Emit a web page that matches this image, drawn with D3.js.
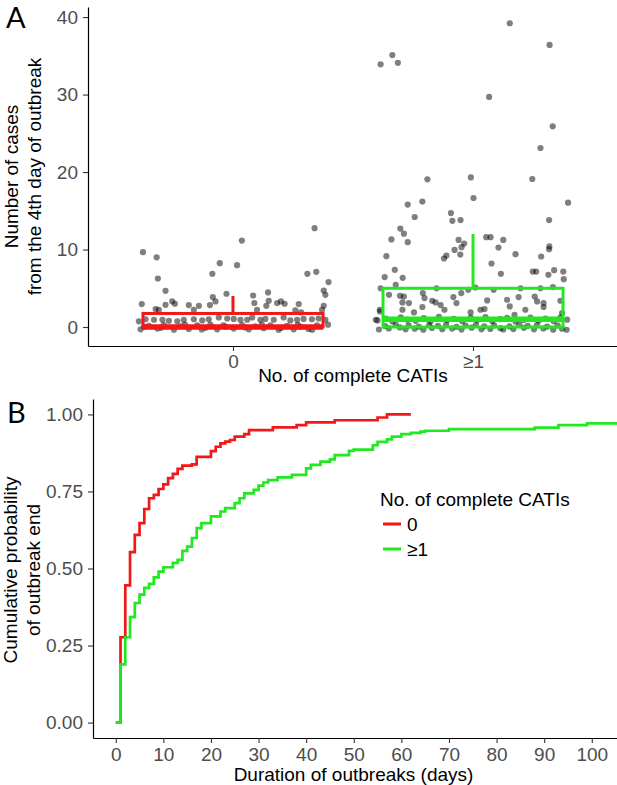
<!DOCTYPE html>
<html>
<head>
<meta charset="utf-8">
<title>CATI outbreaks</title>
<style>
  body {margin: 0; background: #fff;}
  svg text {font-family: "Liberation Sans", Arial, sans-serif;}
  .tick text {fill: #4d4d4d; font-size: 19px;}
  .tick line {stroke: #333; stroke-width: 1.1;}
  .domain {stroke: #000; stroke-width: 1.2;}
  .ttl {font-size: 19px; fill: #000;}
  .panel {font-family: "Lato", "Open Sans", sans-serif !important; font-size: 29px;}
</style>
</head>
<body>
<script src="https://d3js.org/d3.v7.min.js"></script>
<script>
// ---- data ----
var cats = ["0", "\u22651"];
var colors = ["#f01818", "#22e822"];
var yTicksA = [0, 10, 20, 30, 40];
var yTicksB = [0, 0.25, 0.5, 0.75, 1];
var xTicksB = [0, 10, 20, 30, 40, 50, 60, 70, 80, 90, 100];

// box stats (cases from day 4) per group
var q1 = [0, 0];
var med = [0, 1];
var q3 = [1.75, 5];
var whiskHi = [4, 12];

// jittered points: [offset in category units, cases]
var cases0 = [
  [-0.375,9.66],[-0.318,9.0],[-0.313,6.26],[-0.281,4.67],[-0.38,2.96],[-0.086,6.86],[-0.055,8.24],
  [0.017,7.98],[0.037,11.15],[0.34,12.75],[0.31,6.86],[0.347,7.12],[0.398,5.8],[0.378,4.71],
  [0.385,4.16],[-0.027,4.29],[-0.084,3.86],[-0.073,3.3],[0.084,4.07],[0.089,3.1],[0.146,4.46],
  [0.149,3.39],[0.184,3.1],[0.2,3.3],[0.215,3.0],[0.274,2.96],[-0.253,3.3],[-0.242,3.0],
  [-0.281,2.87],[-0.184,2.83],[-0.142,2.74],[-0.163,2.23],[-0.322,2.32],[-0.309,2.23],[-0.096,2.83],
  [0.139,2.74],[0.1,2.23],[0.26,2.14],[0.284,1.88],[0.378,2.74],[0.371,2.23],
  // around 1
  [-0.392,0.73],[-0.364,1.0],[-0.329,0.94],[-0.294,0.94],[-0.267,0.8],[-0.232,0.73],[-0.205,0.94],
  [-0.163,1.0],[-0.128,0.85],[-0.101,1.0],[-0.059,1.24],[-0.024,1.1],[0.003,1.05],[0.031,0.94],
  [0.059,0.94],[0.08,1.24],[0.114,0.94],[0.135,1.05],[0.17,0.94],[0.211,1.24],[0.239,0.85],
  [0.267,0.94],[0.294,1.05],[0.329,1.0],[0.357,1.1],[0.385,0.94],
  // around 0
  [-0.385,-0.3],[-0.35,0.15],[-0.315,-0.2],[-0.288,0.25],[-0.246,-0.35],[-0.218,0.1],[-0.184,-0.25],
  [-0.149,0.2],[-0.114,-0.1],[-0.094,0.3],[-0.066,-0.3],[-0.031,0.05],[0.003,-0.2],[0.038,0.25],
  [0.066,-0.3],[0.093,0.1],[0.128,-0.15],[0.156,0.2],[0.19,-0.35],[0.225,0.15],[0.253,-0.3],
  [0.281,0.05],[0.315,-0.25],[0.35,0.2],[0.396,0.3],
  [-0.37,0.05],[-0.3,-0.1],[-0.2,0.3],[-0.13,-0.32],[-0.04,0.22],[0.05,-0.05],[0.12,0.3],
  [0.2,-0.12],[0.27,0.28],[0.33,-0.34]
];
var cases1 = [
  [0.153,39.2],[0.319,36.4],[-0.336,35.1],[-0.385,33.9],[-0.313,34.1],[0.067,29.7],[0.332,25.9],
  [0.281,23.1],[-0.19,19.06],[-0.009,19.3],[0.247,19.1],[0.002,16.65],[0.396,16.05],[-0.211,16.2],
  [-0.272,15.8],[-0.243,14.2],[-0.092,14.7],[-0.086,13.7],[-0.052,13.8],[0.317,13.8],[-0.303,12.7],
  [-0.288,12.05],[-0.34,11.3],[-0.272,10.95],[-0.06,11.24],[-0.037,10.77],[-0.048,10.3],[-0.077,9.95],
  [-0.053,9.35],[-0.111,9.22],[-0.121,8.84],[0.055,11.6],[0.073,11.6],[0.126,11.24],[0.106,10.25],
  [0.177,9.4],[0.318,10.4],[0.317,10.05],[0.284,9.1],[0.077,8.2],[0.116,6.86],[-0.361,9.14],
  [-0.326,7.38],[-0.368,6.44],[-0.293,6.35],[0.249,7.16],[0.263,7.16],[0.314,6.73],[0.338,7.34],
  [0.376,7.16],[0.378,6.18],[-0.322,5.45],[-0.385,5.0],[-0.152,5.0],[-0.02,4.8],[0.01,5.1],
  [0.086,4.8],[0.198,5.0],[0.281,5.0],[0.333,5.15],
  [-0.35,4.16],[-0.304,4.03],[-0.288,3.94],[-0.209,4.38],[-0.202,3.73],[-0.082,3.86],[-0.049,4.38],
  [-0.17,3.39],[-0.156,3.17],[-0.135,2.83],[-0.267,3.09],[-0.294,3.17],[-0.069,3.09],[0.059,3.43],
  [0.142,3.52],[0.19,3.86],[0.257,3.94],[0.267,3.3],[0.294,3.09],[0.364,3.39],[-0.388,2.23],
  [-0.294,2.23],[-0.246,1.88],[-0.211,2.58],[-0.119,2.23],[-0.01,1.88],[0.031,2.23],[0.048,2.32],
  [0.153,2.66],[0.218,2.23],[0.173,1.58],[0.294,2.58],[0.371,1.8],[-0.388,2.0],[-0.405,0.94],
  // around 1
  [-0.398,0.85],[-0.364,1.1],[-0.336,0.72],[-0.301,1.25],[-0.274,0.95],[-0.239,0.8],[-0.205,1.15],
  [-0.177,0.7],[-0.142,1.3],[-0.107,0.9],[-0.08,1.05],[-0.045,0.75],[-0.01,1.2],[0.017,0.88],
  [0.052,1.28],[0.08,0.78],[0.114,1.02],[0.142,1.18],[0.177,0.7],[0.211,0.92],[0.239,1.22],
  [0.274,0.82],[0.301,1.1],[0.336,0.76],[0.364,1.26],[0.392,0.95],
  // around 0
  [-0.392,-0.32],[-0.366,0.12],[-0.351,-0.18],[-0.322,0.28],[-0.305,-0.05],[-0.281,-0.3],[-0.268,0.2],
  [-0.243,-0.22],[-0.226,0.05],[-0.207,-0.34],[-0.183,0.25],[-0.171,-0.12],[-0.146,0.15],[-0.128,-0.28],
  [-0.112,0.3],[-0.087,-0.2],[-0.069,0.02],[-0.048,-0.33],[-0.031,0.18],[-0.006,-0.08],[0.012,0.26],
  [0.035,-0.3],[0.047,0.1],[0.072,-0.24],[0.088,0.22],[0.114,-0.15],[0.126,-0.32],[0.152,0.08],
  [0.168,-0.26],[0.193,0.3],[0.212,-0.1],[0.228,0.16],[0.254,-0.3],[0.266,0.24],[0.293,-0.18],
  [0.309,0.04],[0.334,-0.34],[0.352,0.2],[0.371,-0.22],[0.39,-0.35]
];

// cumulative probability of outbreak end: [day, prob] steps
var ecdf0 = [
  [0,0],[1,0.277],[2,0.445],[3,0.553],[4,0.609],[5,0.647],[6,0.693],[7,0.728],[8,0.739],
  [9,0.758],[10,0.773],[11,0.793],[12,0.807],[13,0.823],[14,0.834],[16,0.838],[17,0.862],
  [20,0.881],[21,0.895],[22,0.906],[23,0.912],[24,0.917],[25,0.928],[27,0.936],[28,0.949],
  [33,0.958],[38,0.965],[40,0.974],[46,0.981],[55,0.99],[57,1.0],[62,1.0]
];
var ecdf1 = [
  [0,0],[1,0.189],[2,0.277],[3,0.342],[4,0.388],[5,0.415],[6,0.437],[7,0.45],[8,0.471],
  [9,0.49],[10,0.504],[12,0.518],[13,0.528],[14,0.557],[15,0.571],[16,0.599],[17,0.631],
  [18,0.647],[20,0.669],[22,0.685],[23,0.696],[25,0.712],[26,0.728],[27,0.744],[29,0.755],
  [30,0.769],[31,0.779],[32,0.787],[34,0.796],[37,0.804],[40,0.825],[41,0.836],[43,0.847],
  [45,0.854],[46,0.868],[49,0.882],[50,0.886],[54,0.9],[55,0.911],[57,0.919],[58,0.928],
  [60,0.936],[62,0.94],[64,0.944],[65,0.947],[70,0.952],[88,0.957],[93,0.965],[99,0.971],[110,0.971]
];

var svg = d3.select("body").append("svg").attr("width", 617).attr("height", 785);

// ================= panel A =================
var xA = d3.scalePoint().domain(cats).range([88, 618]).padding(0.604);
var yA = d3.scaleLinear().domain([-2.45, 41.3]).range([346, 7]);
var step = xA.step();

svg.append("g").attr("transform", "translate(88,0)")
  .call(d3.axisLeft(yA).tickValues(yTicksA).tickSize(5).tickPadding(5).tickSizeOuter(0));
svg.append("g").attr("transform", "translate(0,346)")
  .call(d3.axisBottom(xA).tickSize(5).tickPadding(4).tickSizeOuter(0));

[cases0, cases1].forEach(function(pts, i) {
  svg.append("g").selectAll("circle")
    .data(pts).join("circle")
    .attr("cx", function(d) { return xA(cats[i]) + d[0] * step; })
    .attr("cy", function(d) { return yA(d[1]); })
    .attr("r", 3.1)
    .attr("fill", "#000")
    .attr("fill-opacity", 0.5);
});

// boxes
var boxG = svg.append("g");
cats.forEach(function(c, i) {
  var cx = xA(c), hw = step * 0.375;
  boxG.append("line")
    .attr("x1", cx).attr("x2", cx)
    .attr("y1", yA(q3[i])).attr("y2", yA(whiskHi[i]))
    .attr("stroke", colors[i]).attr("stroke-width", 3);
  boxG.append("rect")
    .attr("x", cx - hw).attr("width", hw * 2)
    .attr("y", yA(q3[i])).attr("height", yA(q1[i]) - yA(q3[i]))
    .attr("fill", "none").attr("stroke", colors[i]).attr("stroke-width", 3);
  boxG.append("line")
    .attr("x1", cx - hw).attr("x2", cx + hw)
    .attr("y1", yA(med[i])).attr("y2", yA(med[i]))
    .attr("stroke", colors[i]).attr("stroke-width", 5.5);
});

svg.append("text").attr("class", "ttl").attr("x", 353).attr("y", 382)
  .attr("text-anchor", "middle").text("No. of complete CATIs");
svg.append("text").attr("class", "ttl").attr("text-anchor", "middle")
  .attr("transform", "translate(18,176.5) rotate(-90)").text("Number of cases");
svg.append("text").attr("class", "ttl").attr("text-anchor", "middle")
  .attr("transform", "translate(41,176.5) rotate(-90)").text("from the 4th day of outbreak");
svg.append("text").attr("class", "panel").attr("x", 6).attr("y", 28).text("A");

// ================= panel B =================
var xB = d3.scaleLinear().domain([-4.78, 105.3]).range([93, 617]);
var yB = d3.scaleLinear().domain([-0.05, 1.05]).range([738, 399]);

svg.append("g").attr("transform", "translate(93,0)")
  .call(d3.axisLeft(yB).tickValues(yTicksB).tickFormat(d3.format(".2f"))
    .tickSize(5).tickPadding(5).tickSizeOuter(0));
svg.append("g").attr("transform", "translate(0,738)")
  .call(d3.axisBottom(xB).tickValues(xTicksB).tickSize(5).tickPadding(5).tickSizeOuter(0));

var stepLine = d3.line()
  .x(function(d) { return xB(d[0]); })
  .y(function(d) { return yB(d[1]); })
  .curve(d3.curveStepAfter);

[ecdf0, ecdf1].forEach(function(s, i) {
  svg.append("path").datum(s)
    .attr("d", stepLine)
    .attr("fill", "none")
    .attr("stroke", colors[i])
    .attr("stroke-width", 2.7);
});

// legend
var leg = svg.append("g");
leg.append("text").attr("class", "ttl").attr("x", 380).attr("y", 506).text("No. of complete CATIs");
cats.forEach(function(c, i) {
  var ly = 524 + i * 25;
  leg.append("line").attr("x1", 383).attr("x2", 401).attr("y1", ly).attr("y2", ly)
    .attr("stroke", colors[i]).attr("stroke-width", 3);
  leg.append("text").attr("class", "ttl").attr("x", 407).attr("y", ly + 7).text(c);
});

svg.append("text").attr("class", "ttl").attr("x", 353.5).attr("y", 781)
  .attr("text-anchor", "middle").text("Duration of outbreaks (days)");
svg.append("text").attr("class", "ttl").attr("text-anchor", "middle")
  .attr("transform", "translate(17,570) rotate(-90)").text("Cumulative probability");
svg.append("text").attr("class", "ttl").attr("text-anchor", "middle")
  .attr("transform", "translate(40,570) rotate(-90)").text("of outbreak end");
svg.append("text").attr("class", "panel").attr("x", 7).attr("y", 423).text("B");
</script>
</body>
</html>
